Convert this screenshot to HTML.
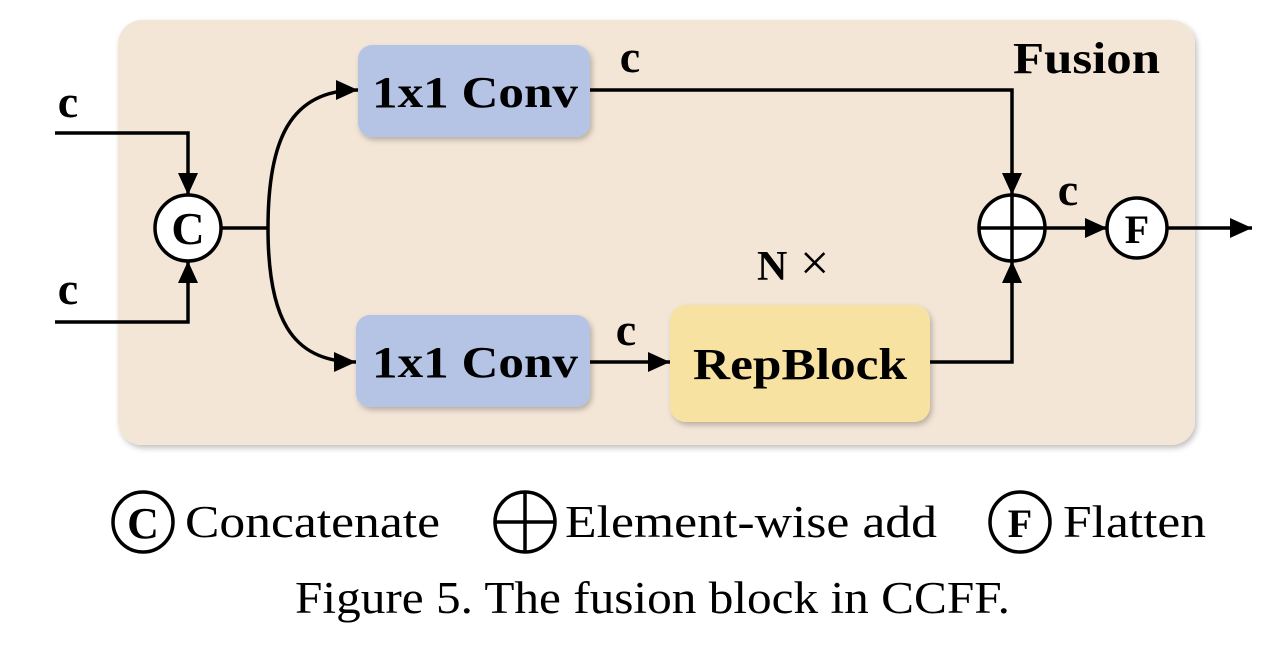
<!DOCTYPE html>
<html><head><meta charset="utf-8"><style>
html,body{margin:0;padding:0;background:#fff;}
svg{display:block;}
text{font-family:"Liberation Serif",serif;}
</style></head><body>
<svg width="1280" height="652" viewBox="0 0 1280 652">
<defs>
<marker id="ah" markerWidth="22" markerHeight="20" refX="22" refY="10" orient="auto" markerUnits="userSpaceOnUse" viewBox="0 0 22 20">
<path d="M0,0 L22,10 L0,20 z" fill="#000"/></marker>
<filter id="sh" x="-5%" y="-5%" width="110%" height="115%"><feDropShadow dx="2" dy="3" stdDeviation="3" flood-color="#000" flood-opacity="0.25"/></filter>
</defs>
<rect x="118" y="20" width="1077" height="425" rx="24" fill="#f3e6d7" filter="url(#sh)"/>
<text x="1013" y="73" font-size="44" font-weight="bold" textLength="147" lengthAdjust="spacingAndGlyphs">Fusion</text>

<rect x="358" y="45" width="232" height="92" rx="14" fill="#b5c3e5" filter="url(#sh)"/>
<text x="372" y="107" font-size="44" font-weight="bold" textLength="206" lengthAdjust="spacingAndGlyphs">1x1 Conv</text>
<rect x="356" y="315" width="234" height="92" rx="14" fill="#b5c3e5" filter="url(#sh)"/>
<text x="372" y="377" font-size="44" font-weight="bold" textLength="206" lengthAdjust="spacingAndGlyphs">1x1 Conv</text>
<rect x="670" y="305" width="260" height="117" rx="16" fill="#f8e2a2" filter="url(#sh)"/>
<text x="693" y="379" font-size="44" font-weight="bold" textLength="214" lengthAdjust="spacingAndGlyphs">RepBlock</text>
<g>
<text x="757" y="280" font-size="42" font-weight="bold">N</text>
<text x="800" y="280" font-size="52">×</text></g>

<g fill="none" stroke="#000" stroke-width="3.5">
<path d="M55,133 H188 V195" marker-end="url(#ah)"/>
<path d="M55,322 H188 V261" marker-end="url(#ah)"/>
<path d="M221,228 H268"/>
<path d="M268,228 C268,140 290,90 358,90" marker-end="url(#ah)"/>
<path d="M268,228 C268,316 290,362 356,362" marker-end="url(#ah)"/>
<path d="M590,90 H1012 V195" marker-end="url(#ah)"/>
<path d="M590,362 H670" marker-end="url(#ah)"/>
<path d="M930,362 H1012 V261" marker-end="url(#ah)"/>
<path d="M1045,228 H1107" marker-end="url(#ah)"/>
<path d="M1167,228 H1252" marker-end="url(#ah)"/>
</g>
<g font-size="46" font-weight="bold">
<text x="68" y="117" text-anchor="middle">c</text>
<text x="68" y="304" text-anchor="middle">c</text>
<text x="630" y="72" text-anchor="middle">c</text>
<text x="626" y="345" text-anchor="middle">c</text>
<text x="1068" y="205" text-anchor="middle">c</text>
</g>
<g>
<circle cx="188" cy="228" r="33" fill="#fff" stroke="#000" stroke-width="3.5"/>
<text x="188" y="244" font-size="46" font-weight="bold" text-anchor="middle">C</text></g>
<g>
<circle cx="1012" cy="228" r="33" fill="#fff" stroke="#000" stroke-width="3.5"/>
<path d="M979,228 H1045 M1012,195 V261" stroke="#000" stroke-width="3.5"/></g>
<g>
<circle cx="1137" cy="228" r="30" fill="#fff" stroke="#000" stroke-width="3.5"/>
<text x="1137" y="243" font-size="40" font-weight="bold" text-anchor="middle">F</text></g>

<g>
<circle cx="143" cy="522" r="30" fill="#fff" stroke="#000" stroke-width="3.5"/>
<text x="143" y="538" font-size="44" font-weight="bold" text-anchor="middle">C</text>
<text x="185" y="537" font-size="46" textLength="255" lengthAdjust="spacingAndGlyphs">Concatenate</text></g>
<g>
<circle cx="525" cy="522" r="30" fill="#fff" stroke="#000" stroke-width="3.5"/>
<path d="M495,522 H555 M525,492 V552" stroke="#000" stroke-width="3.5"/>
<text x="565" y="537" font-size="46" textLength="372" lengthAdjust="spacingAndGlyphs">Element-wise add</text></g>
<g>
<circle cx="1020" cy="522" r="30" fill="#fff" stroke="#000" stroke-width="3.5"/>
<text x="1020" y="537" font-size="40" font-weight="bold" text-anchor="middle">F</text>
<text x="1063" y="537" font-size="46" textLength="143" lengthAdjust="spacingAndGlyphs">Flatten</text></g>
<text x="295" y="613" font-size="45" textLength="715" lengthAdjust="spacingAndGlyphs">Figure 5. The fusion block in CCFF.</text>
</svg>
</body></html>
